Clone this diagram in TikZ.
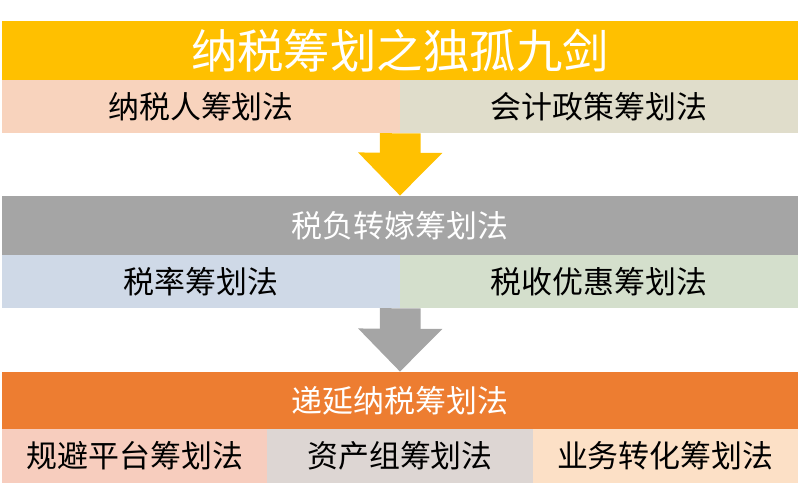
\documentclass[tikz,border=0pt]{standalone}
\usepackage{fontspec}
\newfontfamily\cjk{Noto Sans CJK SC}
\usetikzlibrary{arrows.meta}

\definecolor{gold}{HTML}{FFC000}
\definecolor{peach}{HTML}{F8D3BD}
\definecolor{sand}{HTML}{E0DDCB}
\definecolor{slate}{HTML}{A5A5A5}
\definecolor{skyblue}{HTML}{CFD9E7}
\definecolor{sage}{HTML}{D4DFCC}
\definecolor{tangerine}{HTML}{ED7D31}
\definecolor{salmon}{HTML}{F7CDBE}
\definecolor{mist}{HTML}{DDD6D3}
\definecolor{apricot}{HTML}{FCE0C6}

\begin{document}
\begin{tikzpicture}[x=0.025cm,y=-0.025cm,
    band/.style={rectangle,inner sep=0pt,minimum width=19.9cm,text=white,font=\cjk\fontsize{22}{26}\selectfont},
    half/.style={rectangle,inner sep=0pt,minimum width=9.95cm,minimum height=1.325cm,font=\cjk\fontsize{22}{26}\selectfont},
    third/.style={rectangle,inner sep=0pt,minimum width=6.633cm,minimum height=1.35cm,font=\cjk\fontsize{22}{26}\selectfont},
    bigarrow/.style={line width=29pt,-{Triangle[length=30.6pt,width=58pt]}}]
        \useasboundingbox (0,0) rectangle (800,495);

        \node[band,fill=gold,minimum height=1.475cm,font=\cjk\fontsize{33}{38}\selectfont] at (400,50.5) (title) {纳税筹划之独孤九剑};
        \node[half,fill=peach] at (201,106.5) (nsr) {纳税人筹划法};
        \node[half,fill=sand] at (599,106.5) (kjzc) {会计政策筹划法};

        \node[band,fill=slate,minimum height=1.475cm] at (400,225.5) (sfzj) {税负转嫁筹划法};
        \node[half,fill=skyblue] at (201,281.5) (sl) {税率筹划法};
        \node[half,fill=sage] at (599,281.5) (syyh) {税收优惠筹划法};

        \node[band,fill=tangerine,minimum height=1.425cm] at (400,400.5) (dyns) {递延纳税筹划法};
        \node[third,fill=salmon] at (134.67,456) (gbpt) {规避平台筹划法};
        \node[third,fill=mist] at (400,456) (zcz) {资产组筹划法};
        \node[third,fill=apricot] at (665.33,456) (ywzh) {业务转化筹划法};

        \draw [bigarrow,gold] (nsr.south east) -- (sfzj.north);
        \draw [bigarrow,slate] (sl.south east) -- (dyns.north);
    \end{tikzpicture}
\end{document}
